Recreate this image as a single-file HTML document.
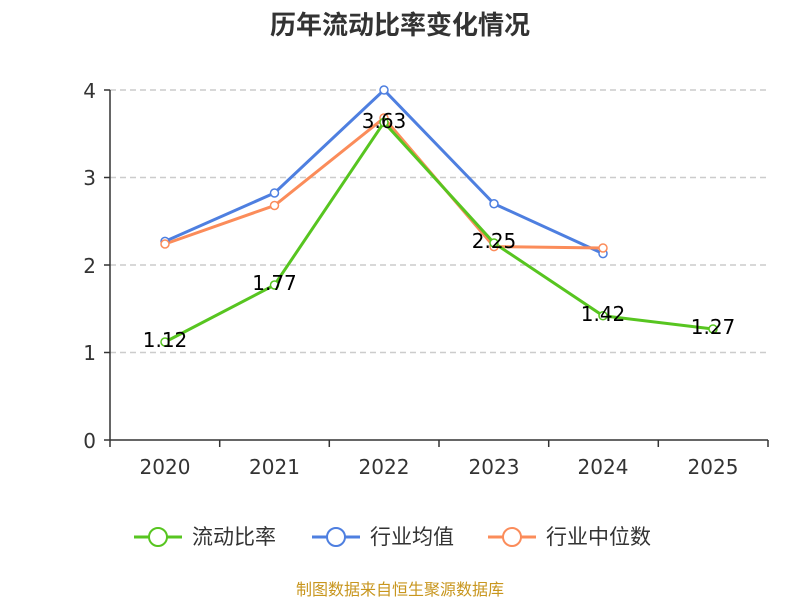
<!DOCTYPE html>
<html><head><meta charset="utf-8"><style>body{margin:0;background:#fff}svg{display:block}</style></head><body>
<svg width="800" height="600" xmlns="http://www.w3.org/2000/svg" font-family="'DejaVu Sans','Noto Sans CJK SC',sans-serif">
<rect width="800" height="600" fill="#fff"/>
<text x="400" y="34" text-anchor="middle" font-size="26" font-weight="bold" fill="#333">历年流动比率变化情况</text>
<g stroke="#ccc" stroke-dasharray="6,4" stroke-width="1.5">
<line x1="110" y1="90" x2="768" y2="90"/><line x1="110" y1="177.5" x2="768" y2="177.5"/><line x1="110" y1="265" x2="768" y2="265"/><line x1="110" y1="352.5" x2="768" y2="352.5"/>
</g>
<g stroke="#333" stroke-width="1.5">
<line x1="110" y1="90" x2="110" y2="440"/><line x1="110" y1="440" x2="768" y2="440"/>
<line x1="104" y1="90" x2="110" y2="90"/><line x1="104" y1="177.5" x2="110" y2="177.5"/><line x1="104" y1="265" x2="110" y2="265"/><line x1="104" y1="352.5" x2="110" y2="352.5"/><line x1="104" y1="440" x2="110" y2="440"/>
<line x1="110" y1="440" x2="110" y2="447"/><line x1="219.7" y1="440" x2="219.7" y2="447"/><line x1="329.3" y1="440" x2="329.3" y2="447"/><line x1="439" y1="440" x2="439" y2="447"/><line x1="548.7" y1="440" x2="548.7" y2="447"/><line x1="658.3" y1="440" x2="658.3" y2="447"/><line x1="768" y1="440" x2="768" y2="447"/>
</g>
<g font-size="20" fill="#333" text-anchor="end">
<text x="96" y="98">4</text><text x="96" y="185">3</text><text x="96" y="273">2</text><text x="96" y="360">1</text><text x="96" y="448">0</text>
</g>
<g font-size="20" fill="#333" text-anchor="middle">
<text x="165" y="474">2020</text><text x="274.5" y="474">2021</text><text x="384" y="474">2022</text><text x="494" y="474">2023</text><text x="603" y="474">2024</text><text x="713" y="474">2025</text>
</g>
<g fill="none" stroke-width="3">
<polyline stroke="#4e7fe0" points="165,241.4 274.5,193 384,90 494,203.75 603,253.6"/>
<polyline stroke="#fb8c5a" points="165,244 274.5,205.5 384,118 494,246.6 603,248"/>
<polyline stroke="#57c520" points="165,342 274.5,285 384,122.4 494,243 603,315.75 713,329"/>
</g>
<g fill="#fff" stroke-width="1.5">
<g stroke="#4e7fe0"><circle cx="165" cy="241.4" r="4"/><circle cx="274.5" cy="193" r="4"/><circle cx="384" cy="90" r="4"/><circle cx="494" cy="203.75" r="4"/><circle cx="603" cy="253.6" r="4"/></g>
<g stroke="#fb8c5a"><circle cx="165" cy="244" r="4"/><circle cx="274.5" cy="205.5" r="4"/><circle cx="384" cy="118" r="4"/><circle cx="494" cy="246.6" r="4"/><circle cx="603" cy="248" r="4"/></g>
<g stroke="#57c520"><circle cx="165" cy="342" r="4"/><circle cx="274.5" cy="285" r="4"/><circle cx="384" cy="122.4" r="4"/><circle cx="494" cy="243" r="4"/><circle cx="603" cy="315.75" r="4"/><circle cx="713" cy="329" r="4"/></g>
</g>
<g font-size="20" fill="#000" text-anchor="middle">
<text x="165" y="347">1.12</text><text x="274.5" y="290">1.77</text><text x="384" y="128">3.63</text><text x="494" y="248">2.25</text><text x="603" y="321">1.42</text><text x="713" y="334">1.27</text>
</g>
<g font-size="21" fill="#333">
<line x1="134" y1="537" x2="182" y2="537" stroke="#57c520" stroke-width="3"/><circle cx="158" cy="537" r="9" fill="#fff" stroke="#57c520" stroke-width="2"/><text x="192" y="544">流动比率</text>
<line x1="312" y1="537" x2="360" y2="537" stroke="#4e7fe0" stroke-width="3"/><circle cx="336" cy="537" r="9" fill="#fff" stroke="#4e7fe0" stroke-width="2"/><text x="370" y="544">行业均值</text>
<line x1="488" y1="537" x2="536" y2="537" stroke="#fb8c5a" stroke-width="3"/><circle cx="512" cy="537" r="9" fill="#fff" stroke="#fb8c5a" stroke-width="2"/><text x="546" y="544">行业中位数</text>
</g>
<text x="400" y="595" text-anchor="middle" font-size="16" fill="#c8961e">制图数据来自恒生聚源数据库</text>
</svg>
</body></html>
